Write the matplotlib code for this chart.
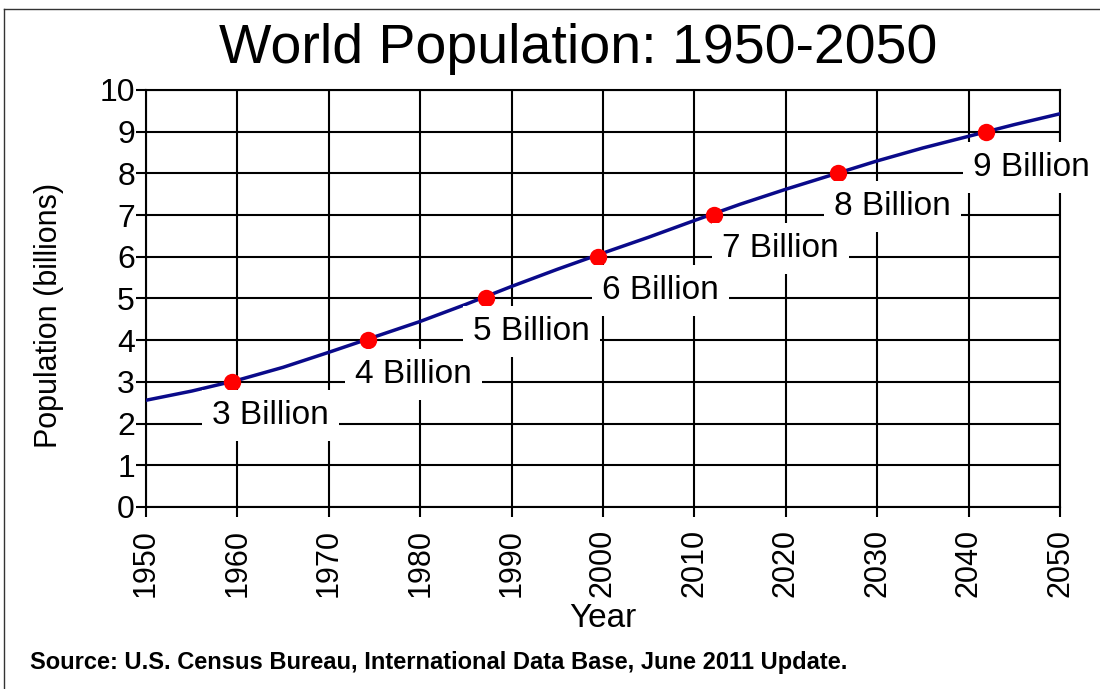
import matplotlib
matplotlib.use("Agg")
import matplotlib.pyplot as plt
from matplotlib.lines import Line2D

years = [1950, 1955, 1960, 1965, 1970, 1975, 1980, 1985, 1990, 1995, 2000,
         2005, 2010, 2015, 2020, 2025, 2030, 2035, 2040, 2045, 2050]
population = [2.56, 2.78, 3.04, 3.35, 3.71, 4.08, 4.45, 4.86, 5.29, 5.70, 6.09,
              6.47, 6.87, 7.26, 7.62, 7.96, 8.30, 8.61, 8.89, 9.17, 9.43]

milestone_years = [1959.4, 1974.3, 1987.2, 1999.5, 2012.1, 2025.7, 2041.9]
milestone_values = [3, 4, 5, 6, 7, 8, 9]
milestone_labels = ["3 Billion", "4 Billion", "5 Billion", "6 Billion",
                    "7 Billion", "8 Billion", "9 Billion"]
label_x = [1963.6, 1979.3, 1992.2, 2006.3, 2019.4, 2031.7, 2046.9]
label_y = [2.2, 3.17, 4.22, 5.2, 6.2, 7.2, 8.13]

xticks = list(range(1950, 2051, 10))
yticks = list(range(0, 11))

plt.rcParams['font.family'] = ['Liberation Sans', 'DejaVu Sans']

fig = plt.figure(figsize=(11, 6.89), dpi=100)
ax = fig.add_axes([146/1100, 1 - 507/689, (1060-146)/1100, (507-90)/689])

ax.set_xlim(1950, 2050)
ax.set_ylim(0, 10)
ax.set_xticks(xticks)
ax.set_yticks(yticks)
ax.set_xticklabels([str(x) for x in xticks], rotation=90, fontsize=22)
ax.set_yticklabels([str(y) for y in yticks], fontsize=23)
ax.tick_params(axis='both', length=7, width=1.5, color='black', direction='out')
ax.tick_params(axis='x', pad=9)
ax.tick_params(axis='y', pad=1)
ax.grid(True, color='black', linewidth=1.5, zorder=1)
ax.set_axisbelow(True)
for s in ax.spines.values():
    s.set_color('black')
    s.set_linewidth(1.5)

ax.plot(years, population, color='#0a0a8a', linewidth=2.5, zorder=3)
ax.plot(milestone_years, milestone_values, 'o', color='#ff0000', markersize=12.5,
        markeredgewidth=0, zorder=4)

for lx, ly, t in zip(label_x, label_y, milestone_labels):
    ax.text(lx, ly, t, fontsize=24, ha='center', va='center', zorder=5,
            clip_on=False,
            bbox=dict(boxstyle='square,pad=0.3', fc='white', ec='none'))

ax.set_xlabel("Year", fontsize=24)
ax.set_ylabel("Population (billions)", fontsize=22)
ax.xaxis.set_label_coords(0.5, (507 - 603) / 417, transform=ax.transAxes)
ax.yaxis.set_label_coords((64 - 146) / 914, (507 - 315) / 417, transform=ax.transAxes)

fig.text(578/1100, 1 - 49/689, "World Population: 1950-2050", fontsize=40,
         ha='center', va='center')
fig.text(30/1100, 1 - 662/689,
         "Source: U.S. Census Bureau, International Data Base, June 2011 Update.",
         fontsize=17, fontweight='bold', ha='left', va='center')

fig.add_artist(Line2D([4/1100, 1.0], [1 - 9/689, 1 - 9/689], color='#333333',
                      linewidth=1, transform=fig.transFigure))
fig.add_artist(Line2D([4/1100, 4/1100], [0, 1 - 9/689], color='#333333',
                      linewidth=1, transform=fig.transFigure))

fig.savefig("out.png", dpi=100)
